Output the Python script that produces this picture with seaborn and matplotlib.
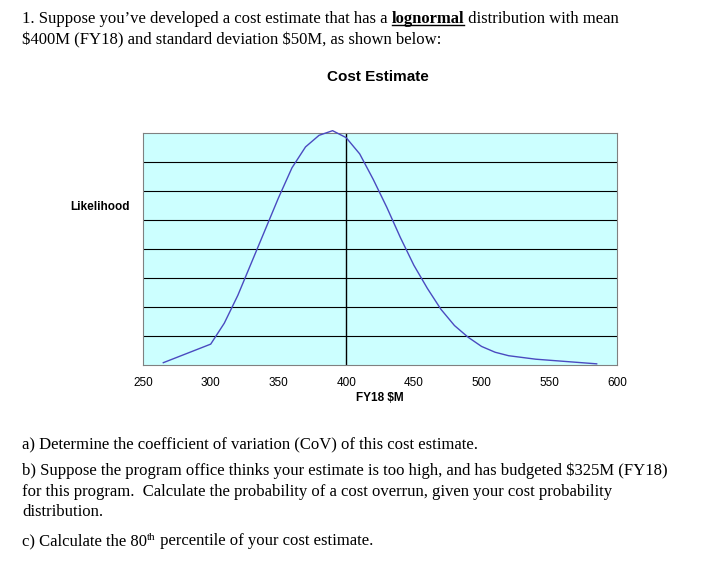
import matplotlib
matplotlib.use("Agg")
import matplotlib.pyplot as plt
import seaborn as sns
import pandas as pd
from matplotlib.lines import Line2D

plt.rcParams["text.usetex"] = False
plt.rcParams["text.parse_math"] = False

cost = [265, 300, 310, 320, 330, 340, 350, 360, 370, 380, 390, 400, 410, 420, 430, 440, 450,
        460, 470, 480, 490, 500, 510, 520, 540, 585]
likelihood = [0.01, 0.09, 0.18, 0.30, 0.44, 0.58, 0.72, 0.85, 0.94, 0.99, 1.01, 0.98, 0.91,
              0.80, 0.68, 0.55, 0.43, 0.33, 0.24, 0.17, 0.12, 0.08, 0.055, 0.04, 0.025, 0.005]
xticks = [250, 300, 350, 400, 450, 500, 550, 600]
mean_line = 400

W, H = 714, 561
fig = plt.figure(figsize=(W / 100, H / 100), dpi=100)
ax = fig.add_axes([143 / W, (H - 365) / H, 474 / W, 232 / H])
ax.set_facecolor("#ccffff")
df = pd.DataFrame({"cost": cost, "lik": likelihood})
sns.lineplot(data=df, x="cost", y="lik", ax=ax, color="#4a4ac0", linewidth=1)
for ln in ax.lines:
    ln.set_clip_on(False)
    ln.set_zorder(5)
ax.axvline(mean_line, color="black", linewidth=1)
ax.set_xlim(250, 600)
ax.set_ylim(0, 1)
for i in range(1, 8):
    ax.axhline(i / 8, color="black", linewidth=0.8)
ax.set_yticks([])
ax.set_xticks(xticks)
ax.set_xticklabels([str(t) for t in xticks], fontsize=8.5, family="Liberation Sans")
ax.tick_params(axis="x", length=0, pad=9)
for s in ax.spines.values():
    s.set_color("#808080")
    s.set_linewidth(0.8)
ax.set_xlabel("FY18 $M", fontsize=8.5, fontweight="bold", family="Liberation Sans", labelpad=2)
ax.set_ylabel("")
fig.text(100 / W, 1 - 207 / H, "Likelihood", fontsize=8.5, fontweight="bold",
         family="Liberation Sans", ha="center", va="center")
fig.text(378 / W, 1 - 77 / H, "Cost Estimate", fontsize=11, fontweight="bold",
         family="Liberation Sans", ha="center", va="center")

r = fig.canvas.get_renderer()
SERIF = "Liberation Serif"

def runs(x, y, pieces):
    for txt, kw in pieces:
        k = dict(fontsize=12, family=SERIF)
        k.update({a: b for a, b in kw.items() if a not in ("under", "dy")})
        yy = y - kw.get("dy", 0)
        t = fig.text(x / W, 1 - yy / H, txt, va="baseline", ha="left", **k)
        bb = t.get_window_extent(r)
        if kw.get("under"):
            fig.add_artist(Line2D([x / W, (x + bb.width) / W], [1 - (yy + 2) / H] * 2,
                                  color="black", linewidth=1, transform=fig.transFigure))
        x += bb.width

runs(22, 23, [("1. Suppose you\u2019ve developed a cost estimate that has a ", {}),
              ("lognormal", {"fontweight": "bold", "under": True}),
              (" distribution with mean", {})])
runs(22, 44, [("$400M (FY18) and standard deviation $50M, as shown below:", {})])
runs(22, 448, [("a) Determine the coefficient of variation (CoV) of this cost estimate.", {})])
runs(22, 475, [("b) Suppose the program office thinks your estimate is too high, and has budgeted $325M (FY18)", {})])
runs(22, 496, [("for this program.  Calculate the probability of a cost overrun, given your cost probability", {})])
runs(22, 516, [("distribution.", {})])
runs(22, 545, [("c) Calculate the 80", {}), ("th", {"fontsize": 8, "dy": 5}),
               (" percentile of your cost estimate.", {})])

fig.savefig("out.png", dpi=100, facecolor="white")
